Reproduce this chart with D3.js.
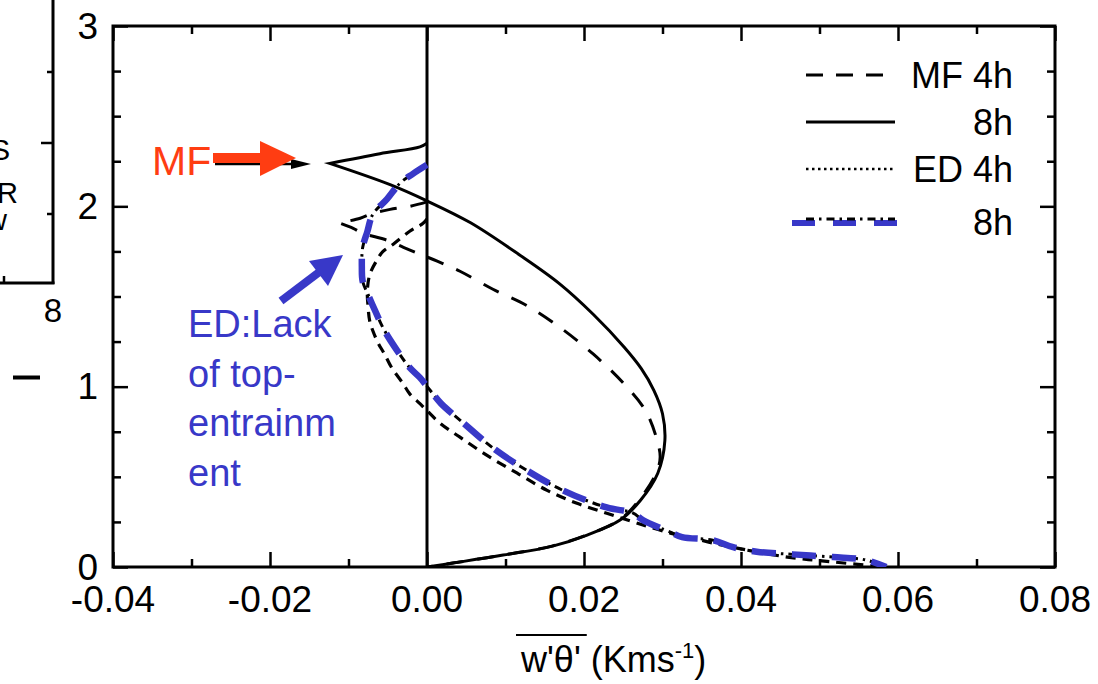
<!DOCTYPE html>
<html>
<head>
<meta charset="utf-8">
<script src="https://cdn.jsdelivr.net/npm/d3@7"></script>
<style>
  html, body { margin: 0; padding: 0; background: #fff; }
  svg { display: block; }
  text { font-family: "Liberation Sans", Arial, Helvetica, sans-serif; fill: #000; }
</style>
</head>
<body>
<svg id="chart" width="1098" height="684"></svg>
<script>
// Heat-flux profiles, each point is [w'θ' (K m s-1), height (km)]
const mf4h = [
  [0.0000, 2.025], [-0.0022, 2.000], [-0.0047, 1.983], [-0.0069, 1.961], [-0.0085, 1.934], [-0.0112, 1.908],
  [-0.0094, 1.878], [-0.0082, 1.851], [-0.0051, 1.812], [-0.0030, 1.773], [-0.0009, 1.735], [0.0013, 1.696],
  [0.0042, 1.640], [0.0084, 1.540], [0.0127, 1.450], [0.0169, 1.330], [0.0212, 1.180], [0.0250, 1.020],
  [0.0278, 0.870], [0.0292, 0.720], [0.0297, 0.610], [0.0292, 0.520], [0.0270, 0.370], [0.0245, 0.260],
  [0.0203, 0.177], [0.0159, 0.116], [0.0096, 0.066], [0.0033, 0.022], [0.0000, 0.000]
];
const mf8h = [
  [0.0000, 2.350], [-0.0009, 2.330], [-0.0060, 2.292], [-0.0124, 2.238],
  [-0.0047, 2.120], [0.0000, 2.030], [0.0055, 1.910], [0.0118, 1.730], [0.0169, 1.570], [0.0212, 1.400],
  [0.0251, 1.220], [0.0273, 1.100], [0.0289, 0.980], [0.0300, 0.850], [0.0303, 0.700], [0.0294, 0.520],
  [0.0272, 0.370], [0.0246, 0.260], [0.0204, 0.177], [0.0160, 0.116], [0.0097, 0.066], [0.0033, 0.022],
  [0.0000, 0.000]
];
const ed4h = [
  [0.0000, 1.930], [-0.0005, 1.906], [-0.0022, 1.862], [-0.0043, 1.790], [-0.0056, 1.750], [-0.0064, 1.700],
  [-0.0073, 1.620], [-0.0076, 1.530], [-0.0075, 1.440], [-0.0073, 1.365], [-0.0069, 1.310], [-0.0062, 1.240],
  [-0.0054, 1.180], [-0.0045, 1.105], [-0.0031, 1.020], [-0.0022, 0.960], [-0.0009, 0.906], [0.0000, 0.867],
  [0.0017, 0.796], [0.0042, 0.720], [0.0076, 0.620], [0.0115, 0.520], [0.0153, 0.425], [0.0191, 0.353],
  [0.0229, 0.298], [0.0268, 0.243], [0.0310, 0.188], [0.0339, 0.160], [0.0364, 0.133], [0.0395, 0.105],
  [0.0459, 0.055], [0.0517, 0.028], [0.0585, 0.000]
];
const ed8h = [
  [0.0000, 2.230], [-0.0018, 2.180], [-0.0034, 2.130], [-0.0051, 2.040], [-0.0069, 1.956], [-0.0076, 1.860],
  [-0.0082, 1.770], [-0.0083, 1.660], [-0.0082, 1.585], [-0.0075, 1.510], [-0.0066, 1.420], [-0.0054, 1.310],
  [-0.0038, 1.200], [-0.0022, 1.105], [-0.0009, 1.050], [0.0004, 0.980], [0.0018, 0.906], [0.0046, 0.800],
  [0.0084, 0.660], [0.0127, 0.536], [0.0173, 0.425], [0.0229, 0.330], [0.0262, 0.300], [0.0275, 0.260],
  [0.0310, 0.193], [0.0325, 0.166], [0.0364, 0.149], [0.0390, 0.110], [0.0420, 0.085], [0.0466, 0.070],
  [0.0517, 0.055], [0.0558, 0.040], [0.0585, 0.000]
];

const xMajorTicks = [-0.04, -0.02, 0.00, 0.02, 0.04, 0.06, 0.08];
const xMinorTicks = [-0.03, -0.01, 0.01, 0.03, 0.05, 0.07];
const yMajorTicks = [0, 1, 2, 3];
const yMinorTicks = [0.25, 0.5, 0.75, 1.25, 1.5, 1.75, 2.25, 2.5, 2.75];
const legendLabels = ["MF 4h", "8h", "ED 4h", "8h"];
const edNote = ["ED:Lack", "of top-", "entrainm", "ent"];
const mfNote = "MF";

const svg = d3.select("#chart");
const BLUE = "#3838c8";
const RED = "#ff3d12";

const plot = { left: 113, right: 1055, top: 26, bottom: 567 };
const x = d3.scaleLinear().domain([-0.04, 0.08]).range([plot.left, plot.right]);
const y = d3.scaleLinear().domain([0, 3]).range([plot.bottom, plot.top]);

svg.append("rect").attr("width", 1098).attr("height", 684).attr("fill", "#fff");

// ---- neighbouring panel (edge of the figure on the left) ----
const side = svg.append("g").attr("stroke", "#000").attr("fill", "none");
side.append("line").attr("x1", 53).attr("x2", 53).attr("y1", -2).attr("y2", 284).attr("stroke-width", 3);
side.append("line").attr("x1", -2).attr("x2", 54.5).attr("y1", 283).attr("y2", 283).attr("stroke-width", 3);
[[72, 6], [143, 12], [214, 6]].forEach(([ty, len]) =>
  side.append("line").attr("x1", 53 - len).attr("x2", 53).attr("y1", ty).attr("y2", ty).attr("stroke-width", 2.5));
side.append("line").attr("x1", 4).attr("x2", 4).attr("y1", 283).attr("y2", 276).attr("stroke-width", 2.5);
side.append("line").attr("x1", 13).attr("x2", 40).attr("y1", 377.5).attr("y2", 377.5).attr("stroke-width", 4);
svg.append("text").attr("x", 53).attr("y", 322).attr("text-anchor", "middle").attr("font-size", 33).text("8");
[["S", 10, 160], ["R", 18, 203], ["w", 7, 230]].forEach(([t, tx, ty]) =>
  svg.append("text").attr("x", tx).attr("y", ty).attr("text-anchor", "end").attr("font-size", 29).text(t));

// ---- axes ----
const axes = svg.append("g");
function tickAxis(axisFn, scale, values, size, transform) {
  const g = axes.append("g").attr("transform", transform)
    .call(axisFn(scale).tickValues(values).tickSize(size).tickSizeOuter(0).tickFormat(""));
  g.select(".domain").remove();
  g.selectAll(".tick line").attr("stroke", "#000").attr("stroke-width", 2.5);
  g.selectAll(".tick text").remove();
  return g;
}
tickAxis(d3.axisBottom, x, xMajorTicks, -15, `translate(0,${plot.bottom})`);
tickAxis(d3.axisBottom, x, xMinorTicks, -8, `translate(0,${plot.bottom})`);
tickAxis(d3.axisTop, x, xMajorTicks, -15, `translate(0,${plot.top})`);
tickAxis(d3.axisTop, x, xMinorTicks, -8, `translate(0,${plot.top})`);
tickAxis(d3.axisLeft, y, yMajorTicks, -15, `translate(${plot.left},0)`);
tickAxis(d3.axisLeft, y, yMinorTicks, -8, `translate(${plot.left},0)`);
tickAxis(d3.axisRight, y, yMajorTicks, -15, `translate(${plot.right},0)`);
tickAxis(d3.axisRight, y, yMinorTicks, -8, `translate(${plot.right},0)`);

axes.append("rect")
  .attr("x", plot.left).attr("y", plot.top)
  .attr("width", plot.right - plot.left).attr("height", plot.bottom - plot.top)
  .attr("fill", "none").attr("stroke", "#000").attr("stroke-width", 3);

// tick labels
axes.selectAll(".xlab").data(xMajorTicks).join("text")
  .attr("class", "xlab")
  .attr("x", d => x(d)).attr("y", plot.bottom + 45)
  .attr("text-anchor", "middle").attr("font-size", 37)
  .text(d => d.toFixed(2));
axes.selectAll(".ylab").data(yMajorTicks).join("text")
  .attr("class", "ylab")
  .attr("x", plot.left - 15).attr("y", d => y(d))
  .attr("dy", "0.34em")
  .attr("text-anchor", "end").attr("font-size", 37)
  .text(d => d);

// x-axis title: overlined w'θ' (Kms^-1)
const title = svg.append("text").attr("x", 521).attr("y", 672).attr("font-size", 36);
title.append("tspan").attr("id", "wt").text("w'θ'");
title.append("tspan").text(" (Kms");
title.append("tspan").attr("dy", -14).attr("font-size", 22).text("-1");
title.append("tspan").attr("dy", 14).text(")");
const wtBox = document.getElementById("wt").getBBox();
svg.append("line")
  .attr("x1", wtBox.x - 4).attr("x2", wtBox.x + wtBox.width + 6)
  .attr("y1", 635).attr("y2", 635)
  .attr("stroke", "#000").attr("stroke-width", 2);

// ---- profiles ----
const clipId = "plotclip";
svg.append("clipPath").attr("id", clipId).append("rect")
  .attr("x", plot.left).attr("y", plot.top)
  .attr("width", plot.right - plot.left).attr("height", plot.bottom - plot.top);

const lines = svg.append("g").attr("clip-path", `url(#${clipId})`).attr("fill", "none");

// zero-flux reference
lines.append("path")
  .attr("d", d3.line()([[x(0), y(0)], [x(0), y(3)]]))
  .attr("stroke", "#000").attr("stroke-width", 3);

const smooth = d3.line().x(d => x(d[0])).y(d => y(d[1])).curve(d3.curveCatmullRom.alpha(0.5));
// smooth profile, with sharp corners kept at the given point indices
function profilePath(pts, corners = []) {
  const cuts = [0, ...corners, pts.length - 1];
  let d = "";
  for (let i = 0; i < cuts.length - 1; i++) {
    const seg = smooth(pts.slice(cuts[i], cuts[i + 1] + 1));
    d += i === 0 ? seg : "L" + seg.slice(1);
  }
  return d;
}

lines.append("path").attr("d", profilePath(ed4h))
  .attr("stroke", "#000").attr("stroke-width", 3.2).attr("stroke-dasharray", "10,7");
lines.append("path").attr("d", profilePath(mf4h, [5]))
  .attr("stroke", "#000").attr("stroke-width", 3).attr("stroke-dasharray", "17,14");
lines.append("path").attr("d", profilePath(mf8h, [3]))
  .attr("stroke", "#000").attr("stroke-width", 3).attr("stroke-linejoin", "miter");
lines.append("path").attr("d", profilePath(ed8h))
  .attr("stroke", "#000").attr("stroke-width", 3).attr("stroke-dasharray", "8,5,2.5,5");
lines.append("path").attr("d", profilePath(ed8h))
  .attr("stroke", BLUE).attr("stroke-width", 6.5).attr("stroke-dasharray", "24,16");

// ---- legend ----
const legend = svg.append("g");
const rowY = [75, 122, 169, 222];
const legStyles = [
  { dash: "17,13", w: 3 },
  { dash: null, w: 3 },
  { dash: "2.5,3.5", w: 2.5 },
  { dash: "8,5,2.5,5", w: 3 }
];
legStyles.forEach((s, i) => {
  if (i === 3) {
    legend.append("line").attr("x1", 792).attr("x2", 898).attr("y1", rowY[i] + 1).attr("y2", rowY[i] + 1)
      .attr("stroke", BLUE).attr("stroke-width", 6).attr("stroke-dasharray", "23,18");
  }
  legend.append("line").attr("x1", 806).attr("x2", 895)
    .attr("y1", i === 3 ? rowY[i] - 3 : rowY[i]).attr("y2", i === 3 ? rowY[i] - 3 : rowY[i])
    .attr("stroke", "#000").attr("stroke-width", s.w)
    .attr("stroke-dasharray", s.dash);
  legend.append("text").attr("x", 1013).attr("y", rowY[i] + 13)
    .attr("text-anchor", "end").attr("font-size", 36).text(legendLabels[i]);
});

// ---- annotations ----
const note = svg.append("g");
// MF arrow (thin black arrow under a bold red one)
note.append("line").attr("x1", 215).attr("x2", 294).attr("y1", 164).attr("y2", 164)
  .attr("stroke", "#000").attr("stroke-width", 2.5);
note.append("path").attr("d", "M291,159L311,164L291,169Z").attr("fill", "#000");
note.append("rect").attr("x", 213).attr("y", 153).attr("width", 50).attr("height", 10).attr("fill", RED);
note.append("path").attr("d", "M260,141L296,158L260,176Z").attr("fill", RED);
note.append("text").attr("x", 152).attr("y", 175)
  .attr("font-family", "'Comic Sans MS', 'DejaVu Sans', sans-serif")
  .attr("font-size", 41).style("fill", RED).text(mfNote);

// ED arrow and note
note.append("line").attr("x1", 281).attr("y1", 301).attr("x2", 322).attr("y2", 270)
  .attr("stroke", BLUE).attr("stroke-width", 8);
note.append("path").attr("d", "M343,255L309,261L328,286Z").attr("fill", BLUE);
edNote.forEach((t, i) =>
  note.append("text").attr("x", 188).attr("y", 337 + i * 49.5)
    .attr("font-family", "'Comic Sans MS', 'DejaVu Sans', sans-serif")
    .attr("font-size", 38).style("fill", BLUE).text(t));
</script>
</body>
</html>
